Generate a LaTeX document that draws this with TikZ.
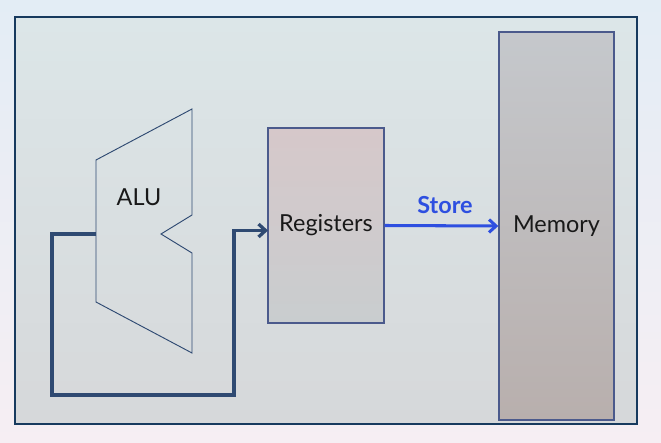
\documentclass[tikz,border=0pt]{standalone}
\usepackage{fontspec}
\setmainfont{Lato}
\usetikzlibrary{arrows.meta}
\definecolor{framecol}{HTML}{173A5E}
\definecolor{linecol}{HTML}{2F4A72}
\definecolor{boxcol}{HTML}{4B5A8C}
\definecolor{storecol}{HTML}{2E4FE0}
\definecolor{outertop}{HTML}{E3EDF5}
\definecolor{outerbot}{HTML}{F6EEF3}
\definecolor{innertop}{HTML}{DCE6E8}
\definecolor{innerbot}{HTML}{D6D8DA}
\definecolor{regtop}{HTML}{D6C8CA}
\definecolor{regbot}{HTML}{C9CDCF}
\definecolor{memtop}{HTML}{C5C8CC}
\definecolor{membot}{HTML}{B8AFAD}

\begin{document}
\begin{tikzpicture}[x=0.03cm,y=-0.03cm,
  box/.style={draw=boxcol,line width=1.2pt,inner sep=0pt},
  lbl/.style={font=\fontsize{20}{24}\selectfont,text=black!90}]
\useasboundingbox (0,0) rectangle (661,443);
\shade[top color=outertop,bottom color=outerbot] (0,0) rectangle (661,443);
\draw[framecol,line width=1.7pt,top color=innertop,bottom color=innerbot] (15,17) rectangle (637,424);

% boxes
\node[box,minimum width=3.48cm,minimum height=5.85cm,top color=regtop,bottom color=regbot] (reg) at (326,225.5) {};
\node[box,minimum width=3.45cm,minimum height=11.64cm,top color=memtop,bottom color=membot] (mem) at (556.5,226) {};
\node[lbl] at (reg) {Registers};
\node[lbl] at (mem) {Memory};

% ALU
\draw[linecol,line width=0.8pt] (192,109) -- (96,160) -- (96,302) -- (192,353)
  -- (192,253) -- (161,234) -- (192,215) -- cycle;
\node[lbl] (alu) at (139,197) {ALU};

% feedback
\coordinate (aluout) at (96,234);
\coordinate (regin) at (268,230.5);
\draw[linecol,line width=2.8pt,-{Straight Barb[length=6pt,width=11pt]}]
  (aluout) -- (52,234) -- (52,395) -- (234,395) -- (234,230.5) -- (regin);

% store
\draw[storecol,line width=2.6pt,-{Straight Barb[length=6pt,width=11pt]}] (reg.east) -- (mem.west);
\node[font=\fontsize{20}{24}\selectfont\bfseries,text=storecol] (store) at (445,205) {Store};
\end{tikzpicture}
\end{document}
